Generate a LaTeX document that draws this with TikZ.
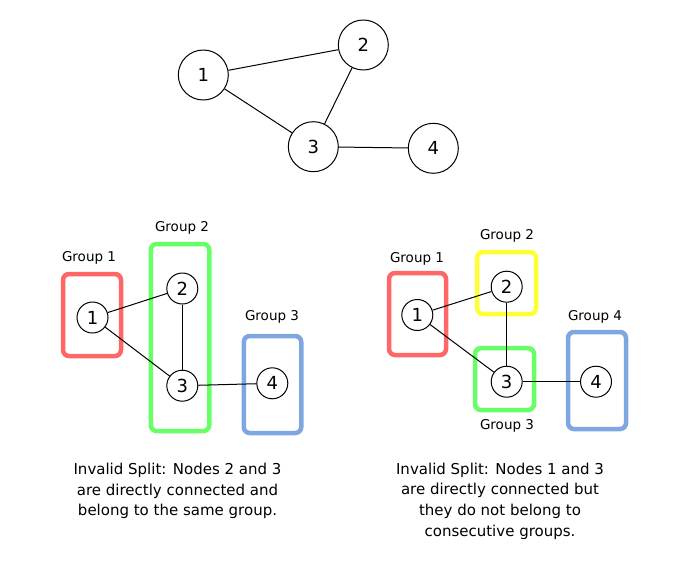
\documentclass[tikz,border=0pt]{standalone}
\usepackage{fontspec}
\setmainfont{DejaVu Sans}
\newlength{\du}
\setlength{\du}{10\unitlength}
\definecolor{dialinecolor}{rgb}{0.000000, 0.000000, 0.000000}
\definecolor{groupred}{rgb}{1.000000, 0.400000, 0.400000}
\definecolor{groupgreen}{rgb}{0.400000, 1.000000, 0.400000}
\definecolor{groupblue}{rgb}{0.494000, 0.651000, 0.878000}
\definecolor{groupyellow}{rgb}{1.000000, 1.000000, 0.200000}

\begin{document}
\begin{tikzpicture}[
  vertex/.style={circle,draw=dialinecolor,fill=white,inner sep=0pt,line width=0.100000\du,font=\fontsize{18}{18}\selectfont},
  bigvertex/.style={vertex,minimum size=5.000000\du},
  smallvertex/.style={vertex,minimum size=3.100000\du},
  edge/.style={draw=dialinecolor,line width=0.100000\du},
  groupbox/.style={rectangle,rounded corners=0.600000\du,line width=0.450000\du,inner sep=0pt},
  grouplabel/.style={inner sep=0pt,font=\fontsize{13.5}{13.5}\selectfont},
  splitnote/.style={align=center,inner sep=0pt,font=\fontsize{15}{20.7}\selectfont}]
\pgftransformxscale{1.000000}
\pgftransformyscale{-1.000000}
\useasboundingbox (0.000000\du,0.000000\du) rectangle (69.800000\du,57.000000\du);
% the graph
\node[bigvertex] (t1) at (20.330000\du,7.500000\du){1};
\node[bigvertex] (t2) at (36.330000\du,4.500000\du){2};
\node[bigvertex] (t3) at (31.330000\du,14.670000\du){3};
\node[bigvertex] (t4) at (43.330000\du,14.830000\du){4};
\draw[edge] (t1)--(t2);
\draw[edge] (t1)--(t3);
\draw[edge] (t2)--(t3);
\draw[edge] (t3)--(t4);
% left split
\node[groupbox,draw=groupred,minimum width=5.800000\du,minimum height=8.200000\du] (lg1) at (9.200000\du,31.500000\du){};
\node[groupbox,draw=groupgreen,minimum width=5.850000\du,minimum height=18.700000\du] (lg2) at (18.000000\du,33.750000\du){};
\node[groupbox,draw=groupblue,minimum width=5.750000\du,minimum height=9.700000\du] (lg3) at (27.250000\du,38.450000\du){};
\node[smallvertex] (l1) at (9.250000\du,31.750000\du){1};
\node[smallvertex] (l2) at (18.230000\du,28.850000\du){2};
\node[smallvertex] (l3) at (18.230000\du,38.570000\du){3};
\node[smallvertex] (l4) at (27.230000\du,38.330000\du){4};
\draw[edge] (l1)--(l2);
\draw[edge] (l1)--(l3);
\draw[edge] (l2)--(l3);
\draw[edge] (l3)--(l4);
% setfont left to latex
\node[grouplabel] (lg1label) at (8.900000\du,25.800000\du){Group 1};
\node[grouplabel] (lg2label) at (18.200000\du,22.800000\du){Group 2};
\node[grouplabel] (lg3label) at (27.200000\du,31.700000\du){Group 3};
\node[splitnote] (lnote) at (17.750000\du,49.100000\du){Invalid Split: Nodes 2 and 3\\are directly connected and\\belong to the same group.};
% right split
\node[groupbox,draw=groupred,minimum width=5.700000\du,minimum height=8.200000\du] (rg1) at (41.750000\du,31.400000\du){};
\node[groupbox,draw=groupyellow,minimum width=5.900000\du,minimum height=6.200000\du] (rg2) at (50.650000\du,28.300000\du){};
\node[groupbox,draw=groupgreen,minimum width=5.900000\du,minimum height=6.200000\du] (rg3) at (50.450000\du,37.900000\du){};
\node[groupbox,draw=groupblue,minimum width=5.800000\du,minimum height=9.700000\du] (rg4) at (59.700000\du,38.050000\du){};
\node[smallvertex] (r1) at (41.730000\du,31.500000\du){1};
\node[smallvertex] (r2) at (50.670000\du,28.670000\du){2};
\node[smallvertex] (r3) at (50.670000\du,38.170000\du){3};
\node[smallvertex] (r4) at (59.600000\du,38.170000\du){4};
\draw[edge] (r1)--(r2);
\draw[edge] (r1)--(r3);
\draw[edge] (r2)--(r3);
\draw[edge] (r3)--(r4);
% setfont left to latex
\node[grouplabel] (rg1label) at (41.700000\du,25.900000\du){Group 1};
\node[grouplabel] (rg2label) at (50.700000\du,23.600000\du){Group 2};
\node[grouplabel] (rg3label) at (50.700000\du,42.600000\du){Group 3};
\node[grouplabel] (rg4label) at (59.500000\du,31.700000\du){Group 4};
\node[splitnote] (rnote) at (50.000000\du,50.100000\du){Invalid Split: Nodes 1 and 3\\are directly connected but\\they do not belong to\\consecutive groups.};
\end{tikzpicture}
\end{document}
